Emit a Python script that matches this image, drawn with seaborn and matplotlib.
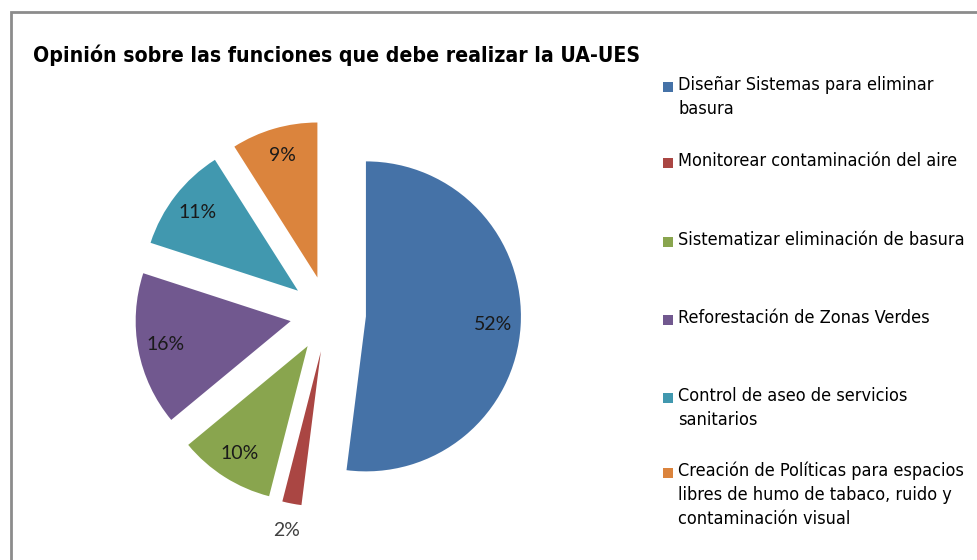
import textwrap
import numpy as np
import matplotlib
matplotlib.use("Agg")
import matplotlib.pyplot as plt
import matplotlib.patches as mpatches
import seaborn as sns

categories = [
    'Diseñar Sistemas para eliminar basura',
    'Monitorear contaminación del aire',
    'Sistematizar eliminación de basura',
    'Reforestación de Zonas Verdes',
    'Control de aseo de servicios sanitarios',
    'Creación de Políticas para espacios libres de humo de tabaco, ruido y contaminación visual',
]
shares = [52, 2, 10, 16, 11, 9]
colors = ['#4572A7', '#AA4643', '#89A54E', '#71588F', '#4198AF', '#DB843D']
title = 'Opinión sobre las funciones que debe realizar la UA-UES'

sns.set_theme(style="white")
narrow = dict(family=['DejaVu Sans'], fontstretch='condensed')

W, H = 977, 560
fig = plt.figure(figsize=(W / 100, H / 100), dpi=100)
ax = fig.add_axes([0, 0, 1, 1])

# pie laid out in pixel units (y up)
center = (328, H - 314)
radius = 155
wedges, texts, autotexts = ax.pie(
    shares, colors=colors, startangle=90, counterclock=False,
    center=center, radius=radius, explode=[38] * len(shares),
    autopct='%1.0f%%', pctdistance=0.82,
    wedgeprops=dict(linewidth=0),
    textprops=dict(family=['Lato', 'DejaVu Sans'], fontsize=14, color='#1a1a1a'),
)
# the small slice gets its label outside
small = shares.index(min(shares))
w = wedges[small]
mid = np.deg2rad((w.theta1 + w.theta2) / 2)
autotexts[small].set_position((w.center[0] + 1.18 * radius * np.cos(mid),
                               w.center[1] + 1.18 * radius * np.sin(mid)))
autotexts[small].set_color('#404040')

ax.set_xlim(0, W)
ax.set_ylim(0, H)
ax.set_aspect('equal')
ax.axis('off')

fig.text(33 / W, 1 - 62 / H, title, fontsize=15.2, fontweight='bold',
         color='black', va='baseline', ha='left', **narrow)

# legend keys + wrapped labels, rows where the original puts them
legend_rows_px = [87, 163, 242, 320, 398, 473]
for wedge, cat, row in zip(wedges, categories, legend_rows_px):
    key = mpatches.Rectangle((663 / W, 1 - (row + 5) / H), 10 / W, 10 / H,
                             transform=fig.transFigure,
                             facecolor=wedge.get_facecolor(), edgecolor='none')
    fig.patches.append(key)
    fig.text(678 / W, 1 - (row - 11) / H, textwrap.fill(cat, 35),
             fontsize=13, color='black', va='top', ha='left',
             linespacing=1.42, **narrow)

# outer chart frame
frame = mpatches.Rectangle((11 / W, -0.1), 1.2, (H - 12) / H + 0.1,
                           transform=fig.transFigure, fill=False,
                           edgecolor='#8c8c8c', linewidth=2, clip_on=False)
fig.patches.append(frame)

fig.savefig('out.png', dpi=100)
